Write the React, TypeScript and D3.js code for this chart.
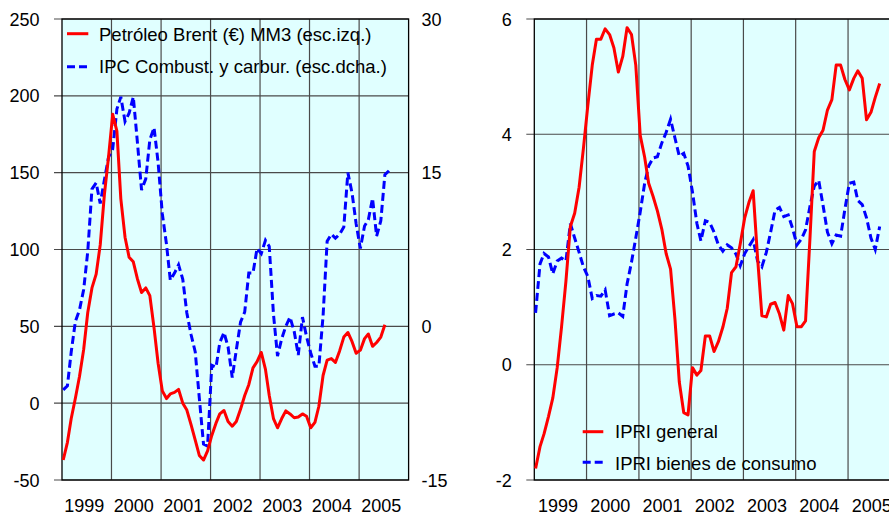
import React from "react";
import * as d3 from "d3";

// ---------- data (monthly, starting Jan 1999) ----------
const brent: number[] = [
  -37, -25.5, -10, 3.4, 17.4, 35, 59, 75, 84, 103, 136, 160,
  188, 177, 133, 108, 95, 92, 81, 72, 75, 70, 49, 26,
  8, 3, 6, 7, 9, 0, -4.5, -14, -24, -34, -37, -31,
  -21, -13, -7, -4.8, -12, -15, -12, -4, 5, 12, 23, 27,
  33, 22, 5, -10, -16, -10, -5, -7, -9.5, -9, -7, -8.5,
  -16, -12.5, -2, 18, 28, 29, 26.5, 34, 43, 46, 40, 32.5,
  34.5, 42, 45, 37, 39.5, 43, 51,
];

const ipcComb: number[] = [
  -6.2, -5.8, -2.5, 0.5, 1.6, 3.6, 7.3, 13.4, 14, 12, 14.3, 16.5,
  17.3, 21.2, 22.4, 20, 20.8, 22.4, 18, 13.3, 14.4, 18.2, 19.4, 16,
  11, 8, 4.5, 5.2, 6, 4.6, 1.3, -0.8, -2.5, -7, -11.5, -11.7,
  -3.8, -4, -1.6, -0.6, -2, -5, -2.3, 0.4, 1.4, 5.2, 5.2, 7.6,
  7.1, 8.4, 7.8, 1.2, -2.9, -1.2, 0, 0.9, -0.5, -2.8, 0.9, -1,
  -2.6, -3.9, -3.9, 1, 8.3, 9, 8.6, 9, 9.7, 15, 13, 10,
  7.6, 9.8, 10.4, 12.5, 8.8, 10.3, 14.8, 15.2,
];

const ipriGeneral: number[] = [
  -1.8, -1.42, -1.2, -0.9, -0.58, -0.05, 0.65, 1.45, 2.4, 2.63, 3.08, 3.75,
  4.5, 5.2, 5.65, 5.65, 5.83, 5.73, 5.5, 5.08, 5.35, 5.85, 5.73, 5.2,
  3.98, 3.6, 3.15, 2.92, 2.67, 2.35, 1.93, 1.66, 0.78, -0.3, -0.83, -0.87,
  -0.05, -0.18, -0.1, 0.5, 0.5, 0.23, 0.4, 0.65, 0.98, 1.6, 1.7, 2.1,
  2.55, 2.83, 3.02, 1.85, 0.85, 0.83, 1.05, 1.08, 0.88, 0.6, 1.2, 1.06,
  0.66, 0.66, 0.76, 2.2, 3.7, 3.94, 4.07, 4.42, 4.6, 5.2, 5.2, 4.95,
  4.77, 4.97, 5.1, 4.97, 4.25, 4.38, 4.64, 4.88,
];

const ipriConsumo: number[] = [
  0.9, 1.75, 1.93, 1.87, 1.58, 1.8, 1.85, 1.8, 2.45, 2.2, 1.95, 1.7,
  1.53, 1.15, 1.2, 1.19, 1.3, 0.85, 0.88, 0.9, 0.84, 1.4, 1.78, 2.2,
  2.65, 3.15, 3.45, 3.59, 3.61, 3.85, 4.03, 4.26, 3.93, 3.62, 3.67, 3.45,
  3.0, 2.45, 2.15, 2.5, 2.47, 2.3, 2.08, 1.97, 2.08, 2.03, 1.92, 1.72,
  1.93, 2.06, 2.17, 1.8, 1.7, 1.95, 2.3, 2.68, 2.73, 2.57, 2.6, 2.37,
  2.08, 2.18, 2.34, 2.75, 3.1, 3.2, 2.77, 2.3, 2.1, 2.25, 2.23, 2.7,
  3.15, 3.17, 2.85, 2.78, 2.55, 2.2, 2.0, 2.4,
];

const years: number[] = [1999, 2000, 2001, 2002, 2003, 2004, 2005];
const leftTicks: number[] = [-50, 0, 50, 100, 150, 200, 250];
const rightTicks: number[] = [-15, 0, 15, 30];
const panel2Ticks: number[] = [-2, 0, 2, 4, 6];

const legend1: string[] = [
  "Petróleo Brent (€) MM3 (esc.izq.)",
  "IPC Combust. y carbur. (esc.dcha.)",
];
const legend2: string[] = ["IPRI general", "IPRI bienes de consumo"];

// ---------- styles ----------
const FONT = "'Liberation Sans', Arial, Helvetica, sans-serif";
const FS = 18;
const LFS = 18.5;
const BG = "#e0ffff";
const GRID = "#4a4a4a";
const RED = "#ff0000";
const BLUE = "#0000ff";

const monthDate = (i: number) => new Date(1999, i, 10);

const TOP = 19;
const BOTTOM = 480;

function Grid({
  x,
  y,
  ticks,
  right,
}: {
  x: d3.ScaleTime<number, number>;
  y: d3.ScaleLinear<number, number>;
  ticks: number[];
  right: number;
}) {
  const [r0, r1] = x.range();
  const visRight = Math.min(r1, right);
  return (
    <g>
      <rect x={r0} y={TOP} width={visRight - r0} height={BOTTOM - TOP} fill={BG} />
      {years.slice(1).map((yr) => {
        const xx = x(new Date(yr, 0, 1));
        return (
          <line key={yr} x1={xx} x2={xx} y1={TOP} y2={BOTTOM} stroke={GRID} strokeWidth={1.2} />
        );
      })}
      {ticks.map((t) => (
        <line key={t} x1={r0 - 8} x2={r1} y1={y(t)} y2={y(t)} stroke={GRID} strokeWidth={1.2} />
      ))}
    </g>
  );
}

export default function App() {
  // left panel
  const xL = d3
    .scaleTime()
    .domain([new Date(1999, 0, 1), new Date(2006, 0, 1)])
    .range([62, 408.6]);
  const yL = d3.scaleLinear().domain([-50, 250]).range([BOTTOM, TOP]);
  const yR = d3.scaleLinear().domain([-15, 30]).range([BOTTOM, TOP]);

  // right panel
  const xP = d3
    .scaleTime()
    .domain([new Date(1999, 0, 1), new Date(2006, 0, 1)])
    .range([534.3, 900.3]);
  const yP = d3.scaleLinear().domain([-2, 6]).range([BOTTOM, TOP]);

  const lineBrent = d3
    .line<number>()
    .x((_, i) => xL(monthDate(i)))
    .y((d) => yL(d));
  const lineIpc = d3
    .line<number>()
    .x((_, i) => xL(monthDate(i)))
    .y((d) => yR(d));
  const lineGen = d3
    .line<number>()
    .x((_, i) => xP(monthDate(i)))
    .y((d) => yP(d));

  const midYear = (x: d3.ScaleTime<number, number>, yr: number) =>
    (x(new Date(yr, 0, 1)) + x(new Date(yr + 1, 0, 1))) / 2 - 2.5;

  return (
    <svg
      width={889}
      height={514}
      style={{ position: "fixed", left: 0, top: 0, background: "#ffffff" }}
      fontFamily={FONT}
      fontSize={FS}
    >
      <rect x={0} y={0} width={889} height={514} fill="#ffffff" />

      {/* ---------- LEFT PANEL ---------- */}
      <Grid x={xL} y={yL} ticks={leftTicks} right={889} />
      <rect
        x={62}
        y={TOP}
        width={408.6 - 62}
        height={BOTTOM - TOP}
        fill="none"
        stroke="#000"
        strokeWidth={1.3}
      />
      {leftTicks.map((t) => (
        <text key={t} x={39.5} y={yL(t)} dy="0.37em" textAnchor="end" fill="#000">
          {t}
        </text>
      ))}
      {rightTicks.map((t) => (
        <text key={t} x={421.5} y={yR(t)} dy="0.37em" textAnchor="start" fill="#000">
          {t}
        </text>
      ))}
      {years.map((yr) => (
        <text key={yr} x={midYear(xL, yr)} y={511.5} textAnchor="middle" fill="#000">
          {yr}
        </text>
      ))}
      {/* legend */}
      <g fontSize={LFS}>
        <line x1={67} x2={88.3} y1={33.7} y2={33.7} stroke={RED} strokeWidth={3} />
        <text x={99} y={40.7} fill="#000">{legend1[0]}</text>
        <line
          x1={67}
          x2={88.3}
          y1={66.7}
          y2={66.7}
          stroke={BLUE}
          strokeWidth={3}
          strokeDasharray="8,4"
        />
        <text x={99} y={73} fill="#000">{legend1[1]}</text>
      </g>
      <path d={lineIpc(ipcComb) ?? ""} fill="none" stroke={BLUE} strokeWidth={3} strokeDasharray="8,4" />
      <path d={lineBrent(brent) ?? ""} fill="none" stroke={RED} strokeWidth={3} strokeLinejoin="round" />

      {/* ---------- RIGHT PANEL ---------- */}
      <Grid x={xP} y={yP} ticks={panel2Ticks} right={889} />
      <rect
        x={534.3}
        y={TOP}
        width={900.3 - 534.3}
        height={BOTTOM - TOP}
        fill="none"
        stroke="#000"
        strokeWidth={1.3}
      />
      {panel2Ticks.map((t) => (
        <text key={t} x={511.7} y={yP(t)} dy="0.37em" textAnchor="end" fill="#000">
          {t}
        </text>
      ))}
      {years.map((yr) => (
        <text key={yr} x={midYear(xP, yr)} y={511.5} textAnchor="middle" fill="#000">
          {yr}
        </text>
      ))}
      <g fontSize={LFS}>
        <line x1={582.7} x2={603.3} y1={431.7} y2={431.7} stroke={RED} strokeWidth={3} />
        <text x={615} y={438.3} fill="#000">{legend2[0]}</text>
        <line
          x1={582.7}
          x2={603.3}
          y1={462.3}
          y2={462.3}
          stroke={BLUE}
          strokeWidth={3}
          strokeDasharray="8,4"
        />
        <text x={615} y={470} fill="#000">{legend2[1]}</text>
      </g>
      <path d={lineGen(ipriConsumo) ?? ""} fill="none" stroke={BLUE} strokeWidth={3} strokeDasharray="8,4" />
      <path d={lineGen(ipriGeneral) ?? ""} fill="none" stroke={RED} strokeWidth={3} strokeLinejoin="round" />
    </svg>
  );
}
